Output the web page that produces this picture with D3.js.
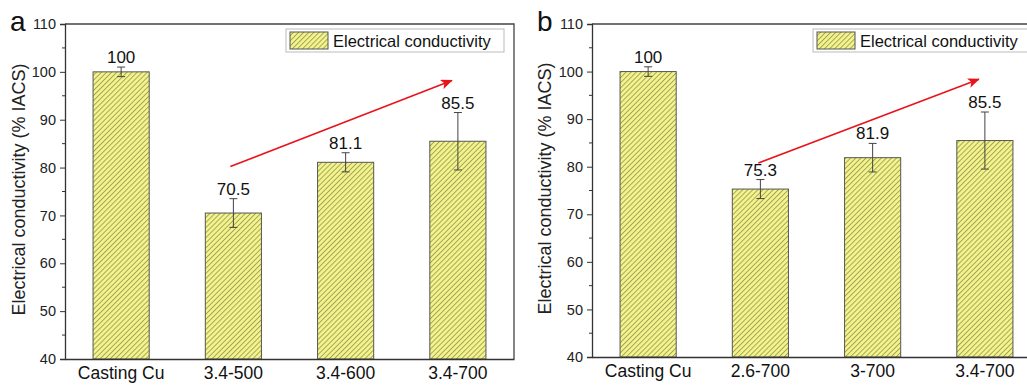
<!DOCTYPE html>
<html>
<head>
<meta charset="utf-8">
<script src="https://cdn.jsdelivr.net/npm/d3@7"></script>
<style>
  body { margin: 0; background: #fff; }
  svg { font-family: "Liberation Sans", Arial, sans-serif; }
</style>
</head>
<body>
<svg id="chart" width="1027" height="385"></svg>
<script>
// panel a
var catsA = ["Casting Cu", "3.4-500", "3.4-600", "3.4-700"];
var valsA = [100, 70.5, 81.1, 85.5];
var errA = [1, 3, 2, 6];
var arrowA = [["3.4-500", 80.2, -3], ["3.4-700", 98.2, -6]];

// panel b
var catsB = ["Casting Cu", "2.6-700", "3-700", "3.4-700"];
var valsB = [100, 75.3, 81.9, 85.5];
var errB = [1, 2, 3, 6];
var arrowB = [["2.6-700", 80.8, -2], ["3.4-700", 98.4, -6]];

var yTicks = [40, 50, 60, 70, 80, 90, 100, 110];
var yMinor = [45, 55, 65, 75, 85, 95, 105];

var svg = d3.select("#chart");
var defs = svg.append("defs");

var pat = defs.append("pattern")
    .attr("id", "hatch")
    .attr("patternUnits", "userSpaceOnUse")
    .attr("width", 3.6)
    .attr("height", 3.6)
    .attr("patternTransform", "rotate(45)");
pat.append("rect").attr("width", 3.6).attr("height", 3.6).attr("fill", "#f4f48c");
pat.append("line").attr("x1", 0.5).attr("y1", 0).attr("x2", 0.5).attr("y2", 3.6)
    .attr("stroke", "#929250").attr("stroke-width", 0.8);

defs.append("marker")
    .attr("id", "arrowhead")
    .attr("viewBox", "0 0 12 10")
    .attr("refX", 11).attr("refY", 5)
    .attr("markerWidth", 12).attr("markerHeight", 10)
    .attr("markerUnits", "userSpaceOnUse")
    .attr("orient", "auto")
    .append("path")
    .attr("d", "M0,0 L12,5 L0,10 L3,5 Z")
    .attr("fill", "#e8141c");

function panel(letter, cats, vals, errs, arrow, left, right, top, bottom, labelX) {
  var x = d3.scaleBand().domain(cats).range([left, right])
      .paddingInner(0.5).paddingOuter(0.25);
  var y = d3.scaleLinear().domain([40, 110]).range([bottom, top]);
  var g = svg.append("g");

  // bars
  g.selectAll(".bar").data(cats).enter().append("rect")
      .attr("x", function(d) { return x(d); })
      .attr("y", function(d, i) { return y(vals[i]); })
      .attr("width", x.bandwidth())
      .attr("height", function(d, i) { return y(40) - y(vals[i]); })
      .attr("fill", "url(#hatch)")
      .attr("stroke", "#555")
      .attr("stroke-width", 1);

  // error bars
  var eb = g.selectAll(".err").data(cats).enter().append("g")
      .attr("stroke", "#444").attr("stroke-width", 1);
  eb.append("line")
      .attr("x1", function(d) { return x(d) + x.bandwidth() / 2; })
      .attr("x2", function(d) { return x(d) + x.bandwidth() / 2; })
      .attr("y1", function(d, i) { return y(vals[i] - errs[i]); })
      .attr("y2", function(d, i) { return y(vals[i] + errs[i]); });
  [1, -1].forEach(function(s) {
    eb.append("line")
        .attr("x1", function(d) { return x(d) + x.bandwidth() / 2 - 4; })
        .attr("x2", function(d) { return x(d) + x.bandwidth() / 2 + 4; })
        .attr("y1", function(d, i) { return y(vals[i] + s * errs[i]); })
        .attr("y2", function(d, i) { return y(vals[i] + s * errs[i]); });
  });

  // value labels
  g.selectAll(".val").data(cats).enter().append("text")
      .attr("x", function(d) { return x(d) + x.bandwidth() / 2; })
      .attr("y", function(d, i) { return y(vals[i] + errs[i]) - 4; })
      .attr("text-anchor", "middle")
      .attr("font-size", 17)
      .attr("fill", "#111")
      .text(function(d, i) { return vals[i]; });

  // frame
  g.append("path")
      .attr("d", "M" + left + "," + top + "H" + right + "V" + bottom)
      .attr("fill", "none").attr("stroke", "#444").attr("stroke-width", 1.3);

  // y axis
  var ya = g.append("g").attr("transform", "translate(" + left + ",0)")
      .call(d3.axisLeft(y).tickValues(yTicks).tickSize(5).tickPadding(4).tickFormat(d3.format("d")));
  ya.select(".domain").attr("stroke", "#333").attr("stroke-width", 1.3);
  ya.selectAll(".tick line").attr("stroke", "#333");
  ya.selectAll("text").attr("font-size", 14.5).attr("fill", "#222")
      .attr("font-family", "Liberation Sans, Arial, sans-serif");
  g.selectAll(".minor").data(yMinor).enter().append("line")
      .attr("x1", left - 3).attr("x2", left)
      .attr("y1", function(d) { return y(d); }).attr("y2", function(d) { return y(d); })
      .attr("stroke", "#333");

  // x axis
  var xa = g.append("g").attr("transform", "translate(0," + bottom + ")")
      .call(d3.axisBottom(x).tickSize(0).tickPadding(8));
  xa.select(".domain").attr("stroke", "#333").attr("stroke-width", 1.3);
  xa.selectAll("text").attr("font-size", 17.5).attr("fill", "#111")
      .attr("font-family", "Liberation Sans, Arial, sans-serif");

  // axis title
  g.append("text")
      .attr("transform", "translate(" + labelX + "," + ((top + bottom) / 2 - 2) + ") rotate(-90)")
      .attr("text-anchor", "middle")
      .attr("font-size", 18)
      .attr("fill", "#222")
      .text("Electrical conductivity (% IACS)");

  // panel letter
  g.append("text")
      .attr("x", left - 55).attr("y", top + 7)
      .attr("font-size", 28)
      .attr("fill", "#111")
      .text(letter);

  // arrow
  g.append("line")
      .attr("x1", x(arrow[0][0]) + x.bandwidth() / 2 + arrow[0][2])
      .attr("y1", y(arrow[0][1]))
      .attr("x2", x(arrow[1][0]) + x.bandwidth() / 2 + arrow[1][2])
      .attr("y2", y(arrow[1][1]))
      .attr("stroke", "#e8141c").attr("stroke-width", 1.6)
      .attr("marker-end", "url(#arrowhead)");

  // legend
  var lg = g.append("g").attr("transform", "translate(" + (right - 228) + "," + (top + 5) + ")");
  lg.append("rect").attr("width", 218).attr("height", 23)
      .attr("fill", "#fff").attr("stroke", "#bbb");
  lg.append("rect").attr("x", 4).attr("y", 3).attr("width", 38).attr("height", 17)
      .attr("fill", "url(#hatch)").attr("stroke", "#555");
  lg.append("text").attr("x", 47).attr("y", 17.5)
      .attr("font-size", 16.5).attr("fill", "#111")
      .text("Electrical conductivity");
}

panel("a", catsA, valsA, errA, arrowA, 65, 514, 24, 359, 25);
panel("b", catsB, valsB, errB, arrowB, 592, 1041, 24, 357, 551);
</script>
</body>
</html>
